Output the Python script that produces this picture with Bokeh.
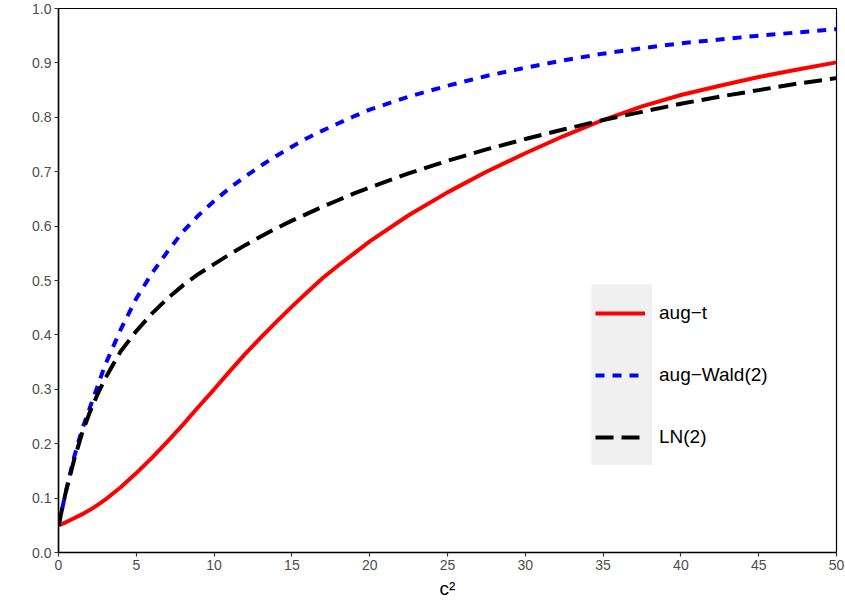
from bokeh.plotting import figure
from bokeh.models import Range1d, Legend, LegendItem, BoxAnnotation, FixedTicker, NumeralTickFormatter
from bokeh.embed import file_html
from bokeh.resources import INLINE

# ---- data ----
c2 = [0, 0.5, 1, 1.5, 2, 2.5, 3, 4, 5, 6, 7, 8, 9, 10, 11, 12, 13, 14, 15,
      16, 17, 18, 19, 20, 22.5, 25, 27.5, 30, 32.5, 35, 37.5, 40, 42.5, 45,
      47.5, 50]
aug_t = [0.05, 0.056, 0.063, 0.07, 0.078, 0.087, 0.097, 0.12, 0.146, 0.174,
         0.204, 0.235, 0.268, 0.30, 0.333, 0.365, 0.395, 0.424, 0.452,
         0.479, 0.505, 0.528, 0.55, 0.572, 0.62, 0.662, 0.70, 0.734, 0.766,
         0.795, 0.82, 0.841, 0.858, 0.874, 0.888, 0.901]
aug_wald2 = [0.05, 0.115, 0.175, 0.225, 0.265, 0.305, 0.345, 0.41, 0.467,
             0.513, 0.553, 0.59, 0.62, 0.646, 0.67, 0.691, 0.711, 0.729,
             0.746, 0.762, 0.776, 0.789, 0.802, 0.814, 0.838, 0.858, 0.876,
             0.891, 0.905, 0.917, 0.927, 0.936, 0.943, 0.95, 0.956, 0.962]
ln2 = [0.05, 0.115, 0.17, 0.218, 0.257, 0.29, 0.32, 0.37, 0.407, 0.439,
       0.467, 0.491, 0.512, 0.53, 0.548, 0.565, 0.581, 0.596, 0.61,
       0.623, 0.636, 0.648, 0.66, 0.671, 0.697, 0.72, 0.741, 0.76, 0.778,
       0.795, 0.81, 0.825, 0.838, 0.85, 0.862, 0.872]
x_ticks = [0, 5, 10, 15, 20, 25, 30, 35, 40, 45, 50]
y_ticks = [0.0, 0.1, 0.2, 0.3, 0.4, 0.5, 0.6, 0.7, 0.8, 0.9, 1.0]
labels = ["aug\u2212t", "aug\u2212Wald(2)", "LN(2)"]

FONT = "Liberation Sans"

p = figure(width=844, height=602, output_backend="svg", toolbar_location=None,
           x_range=Range1d(0, 50), y_range=Range1d(0, 1.0),
           min_border_left=58, min_border_right=8, min_border_top=8,
           min_border_bottom=50)
p.background_fill_color = "white"
p.border_fill_color = "white"
p.xgrid.visible = False
p.ygrid.visible = False
p.outline_line_color = "black"
p.outline_line_width = 1.2

# legend key background (grey)
p.add_layout(BoxAnnotation(left=34.25, right=38.15, bottom=0.161, top=0.493,
                           fill_color="#f0f0f0", fill_alpha=1.0,
                           line_color=None, level="underlay"))

r1 = p.line(c2, aug_t, line_color="red", line_width=4)
r2 = p.line(c2, aug_wald2, line_color="blue", line_width=4, line_dash="9 8")
r3 = p.line(c2, ln2, line_color="black", line_width=4, line_dash="18 8")

for ax in (p.xaxis[0], p.yaxis[0]):
    ax.axis_line_color = "black"
    ax.axis_line_width = 1.5
    ax.major_tick_line_color = "#333333"
    ax.major_tick_line_width = 1.2
    ax.major_tick_in = 0
    ax.major_tick_out = 4
    ax.minor_tick_line_color = None
    ax.major_label_text_font = FONT
    ax.major_label_text_font_size = "14px"
    ax.major_label_text_color = "#4d4d4d"
    ax.major_label_standoff = 3

p.xaxis.ticker = FixedTicker(ticks=x_ticks)
p.yaxis.ticker = FixedTicker(ticks=y_ticks)
p.yaxis.formatter = NumeralTickFormatter(format="0.0")
p.xaxis.formatter = NumeralTickFormatter(format="0")
p.xaxis.axis_label = "c\u00b2"
p.xaxis.axis_label_text_font = FONT
p.xaxis.axis_label_text_font_style = "normal"
p.xaxis.axis_label_text_font_size = "19px"
p.xaxis.axis_label_text_color = "black"
p.xaxis.axis_label_standoff = 5

legend = Legend(items=[LegendItem(label=labels[0], renderers=[r1]),
                       LegendItem(label=labels[1], renderers=[r2]),
                       LegendItem(label=labels[2], renderers=[r3])],
                location=(537, 104), orientation="vertical",
                background_fill_alpha=0, border_line_color=None,
                padding=0, margin=0, spacing=40,
                glyph_width=50, glyph_height=20, label_height=20,
                label_standoff=14,
                label_text_font=FONT, label_text_font_size="19px",
                label_text_color="black")
p.add_layout(legend, "center")

open("out.html", "w").write(file_html(p, INLINE))
